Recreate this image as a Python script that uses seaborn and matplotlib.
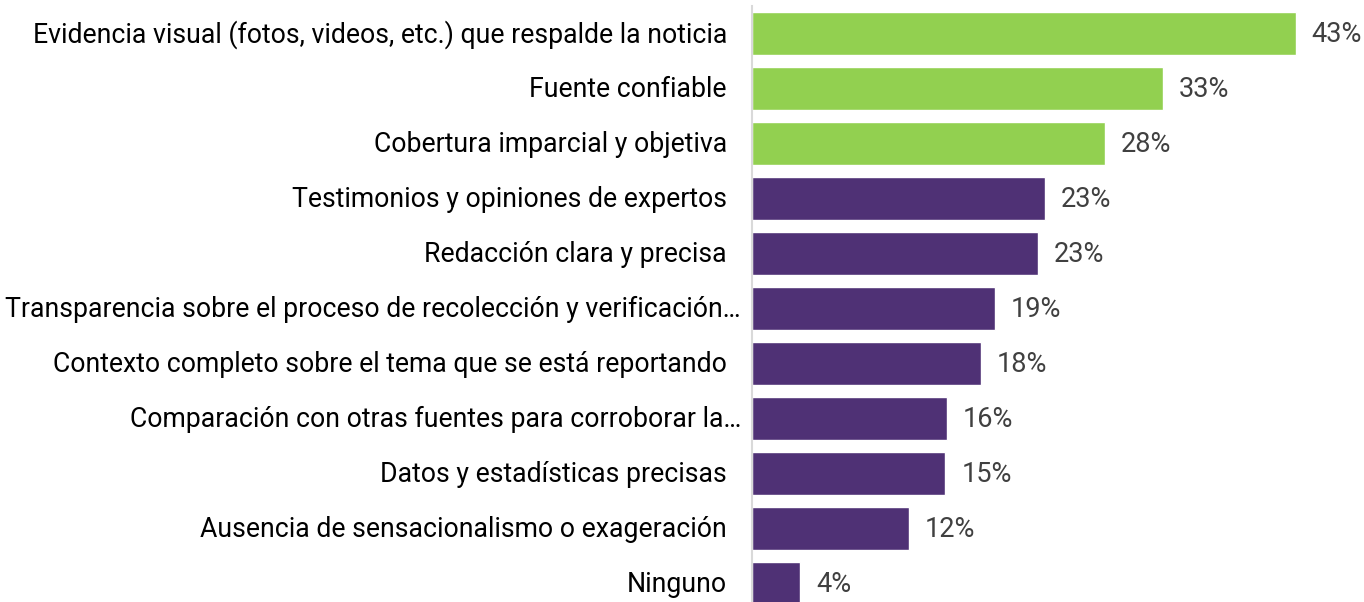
import matplotlib
matplotlib.use("Agg")
import matplotlib.pyplot as plt
import matplotlib.transforms as mtransforms
import seaborn as sns
import pandas as pd

categories = [
    "Evidencia visual (fotos, videos, etc.) que respalde la noticia",
    "Fuente confiable",
    "Cobertura imparcial y objetiva",
    "Testimonios y opiniones de expertos",
    "Redacción clara y precisa",
    "Transparencia sobre el proceso de recolección y verificación…",
    "Contexto completo sobre el tema que se está reportando",
    "Comparación con otras fuentes para corroborar la…",
    "Datos y estadísticas precisas",
    "Ausencia de sensacionalismo o exageración",
    "Ninguno",
]
values = [43.0, 32.5, 27.9, 23.2, 22.6, 19.2, 18.1, 15.4, 15.3, 12.4, 3.8]
value_labels = ["43%", "33%", "28%", "23%", "23%", "19%", "18%", "16%", "15%", "12%", "4%"]
groups = ["top", "top", "top"] + ["rest"] * 8

df = pd.DataFrame({"cat": categories, "val": values, "grp": groups})

sns.set_theme(style="white")
plt.rcParams["font.family"] = ["Roboto", "DejaVu Sans"]

W, H, DPI = 1364, 602, 100
fig = plt.figure(figsize=(W / DPI, H / DPI), dpi=DPI)
ax_left = 752 / W
ax_bottom = 0.0
ax_top = 1 - 6 / H
ax = fig.add_axes([ax_left, ax_bottom, 1 - ax_left, ax_top - ax_bottom])

palette = {"top": "#92D050", "rest": "#4F3175"}
sns.barplot(data=df, y="cat", x="val", hue="grp", palette=palette, dodge=False,
            width=43 / 55, legend=False, ax=ax, saturation=1)

n = len(categories)
ppu = (1296 - 752.5) / 43.0
ax.set_xlim(0, (W - 752) / ppu)
axes_h_px = H * (ax_top - ax_bottom)
top_px = 6
c0 = 33.5 - top_px
ymin = -c0 / 55.0
ymax = ymin + axes_h_px / 55.0
ax.set_ylim(ymax, ymin)

for s in ["top", "right", "bottom"]:
    ax.spines[s].set_visible(False)
ax.spines["left"].set_color("#d9d9d9")
ax.spines["left"].set_linewidth(1.5)
ax.set_xticks([])
ax.set_xlabel("")
ax.set_ylabel("")
ax.tick_params(axis="y", length=0, pad=18, labelsize=19.2, labelcolor="#000000")

up = mtransforms.ScaledTranslation(0, 2 / DPI, fig.dpi_scale_trans)
for lab in ax.get_yticklabels():
    lab.set_verticalalignment("center_baseline")
    tr = lab.get_transform() + up
    if lab.get_text().endswith("…"):
        tr = tr + mtransforms.ScaledTranslation(14 / DPI, 0, fig.dpi_scale_trans)
    lab.set_transform(tr)

for i, (v, t) in enumerate(zip(values, value_labels)):
    ax.annotate(t, xy=(v, i), xytext=(11.5, 1.5), textcoords="offset points",
                ha="left", va="center_baseline", fontsize=19.5, color="#404040")

fig.savefig("out.png", dpi=DPI)
